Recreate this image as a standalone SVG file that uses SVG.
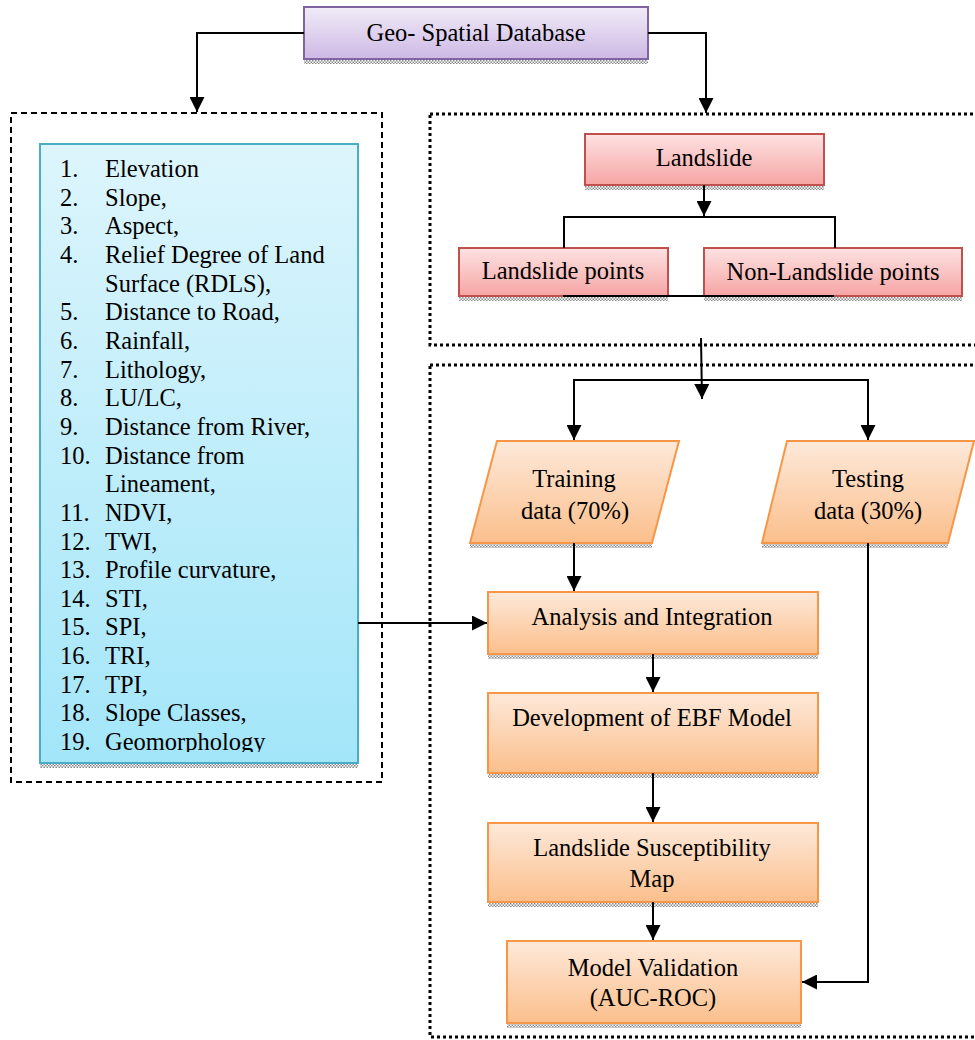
<svg xmlns="http://www.w3.org/2000/svg" width="975" height="1040" viewBox="0 0 975 1040">
<defs>
<linearGradient id="gPurple" x1="0" y1="0" x2="0" y2="1"><stop offset="0" stop-color="#f1ecf8"/><stop offset="1" stop-color="#cdb8e4"/></linearGradient>
<linearGradient id="gCyan" x1="0" y1="0" x2="0" y2="1"><stop offset="0" stop-color="#ddf5fc"/><stop offset="1" stop-color="#a3e6f9"/></linearGradient>
<linearGradient id="gRed" x1="0" y1="0" x2="0" y2="1"><stop offset="0" stop-color="#fde2e2"/><stop offset="1" stop-color="#f6a5a4"/></linearGradient>
<linearGradient id="gOrange" x1="0" y1="0" x2="0" y2="1"><stop offset="0" stop-color="#fde9da"/><stop offset="1" stop-color="#fbbf8c"/></linearGradient>
<pattern id="hatch" width="3" height="3" patternUnits="userSpaceOnUse"><rect width="3" height="3" fill="#ffffff"/><rect width="1.5" height="1.5" fill="#8a8a8a"/><rect x="1.5" y="1.5" width="1.5" height="1.5" fill="#8a8a8a"/></pattern>
<marker id="arr" viewBox="0 0 10 10" refX="10" refY="5" markerWidth="7.5" markerHeight="7.5" markerUnits="strokeWidth" orient="auto"><path d="M0,0 L10,5 L0,10 Z" fill="#000"/></marker>
<clipPath id="listClip"><rect x="40" y="144" width="318" height="608"/></clipPath>
</defs>
<style>
text{font-family:"Liberation Serif","Times New Roman",serif;font-size:24.5px;fill:#000}
.c{text-anchor:middle}
.sh{fill:url(#hatch)}
.purple{fill:url(#gPurple);stroke:#8064a2;stroke-width:2}
.cyan{fill:url(#gCyan);stroke:#4bacc6;stroke-width:2}
.red{fill:url(#gRed);stroke:#c0504d;stroke-width:2}
.orange{fill:url(#gOrange);stroke:#f79646;stroke-width:2}
.dash{fill:none;stroke:#000;stroke-width:2;stroke-dasharray:6 4}
.dot{fill:none;stroke:#000;stroke-width:3;stroke-dasharray:3 3}
.ln{fill:none;stroke:#000;stroke-width:2}
</style>

<g id="containers">
<rect class="dash" x="11" y="113" width="371" height="669"/>
<rect class="dot" x="430" y="114" width="560" height="231"/>
<rect class="dot" x="430" y="365" width="560" height="672"/>
</g>

<g id="geo">
<rect class="sh" x="304" y="59" width="344" height="5"/>
<rect class="purple" x="304" y="7" width="344" height="52"/>
<text class="c" x="476" y="41">Geo- Spatial Database</text>
</g>

<g id="factors">
<rect class="sh" x="40" y="763" width="318" height="5"/>
<rect class="cyan" x="40" y="144" width="318" height="619"/>
<g clip-path="url(#listClip)">
<text x="60" y="177">1.</text><text x="105" y="177">Elevation</text>
<text x="60" y="205.7">2.</text><text x="105" y="205.7">Slope,</text>
<text x="60" y="234.3">3.</text><text x="105" y="234.3">Aspect,</text>
<text x="60" y="263">4.</text><text x="105" y="263">Relief Degree of Land</text>
<text x="105" y="291.6">Surface (RDLS),</text>
<text x="60" y="320.3">5.</text><text x="105" y="320.3">Distance to Road,</text>
<text x="60" y="348.9">6.</text><text x="105" y="348.9">Rainfall,</text>
<text x="60" y="377.6">7.</text><text x="105" y="377.6">Lithology,</text>
<text x="60" y="406.2">8.</text><text x="105" y="406.2">LU/LC,</text>
<text x="60" y="434.9">9.</text><text x="105" y="434.9">Distance from River,</text>
<text x="60" y="463.5">10.</text><text x="105" y="463.5">Distance from</text>
<text x="105" y="492.2">Lineament,</text>
<text x="60" y="520.8">11.</text><text x="105" y="520.8">NDVI,</text>
<text x="60" y="549.5">12.</text><text x="105" y="549.5">TWI,</text>
<text x="60" y="578.1">13.</text><text x="105" y="578.1">Profile curvature,</text>
<text x="60" y="606.8">14.</text><text x="105" y="606.8">STI,</text>
<text x="60" y="635.4">15.</text><text x="105" y="635.4">SPI,</text>
<text x="60" y="664.1">16.</text><text x="105" y="664.1">TRI,</text>
<text x="60" y="692.7">17.</text><text x="105" y="692.7">TPI,</text>
<text x="60" y="721.4">18.</text><text x="105" y="721.4">Slope Classes,</text>
<text x="60" y="750">19.</text><text x="105" y="750">Geomorphology</text>
</g>
</g>

<g id="landslide">
<rect class="sh" x="585" y="185" width="239" height="5"/>
<rect class="red" x="585" y="134" width="239" height="51"/>
<text class="c" x="704" y="166">Landslide</text>
</g>

<g id="landslide-points">
<rect class="sh" x="459" y="296" width="209" height="5"/>
<rect class="red" x="459" y="248" width="209" height="48"/>
<text class="c" x="563" y="279">Landslide points</text>
</g>

<g id="non-landslide-points">
<rect class="sh" x="704" y="296" width="258" height="5"/>
<rect class="red" x="704" y="248" width="258" height="48"/>
<text class="c" x="833" y="280">Non-Landslide points</text>
</g>

<g id="training">
<polygon class="sh" points="470,543 652,543 652,548 470,548"/>
<polygon class="orange" points="497,441 679,441 652,543 470,543"/>
<text class="c" x="574" y="487">Training</text>
<text class="c" x="575" y="519">data (70%)</text>
</g>

<g id="testing">
<polygon class="sh" points="762,543 948,543 948,548 762,548"/>
<polygon class="orange" points="787,441 974,441 948,543 762,543"/>
<text class="c" x="868" y="487">Testing</text>
<text class="c" x="868" y="519">data (30%)</text>
</g>

<g id="analysis">
<rect class="sh" x="488" y="654" width="330" height="5"/>
<rect class="orange" x="488" y="592" width="330" height="62"/>
<text class="c" x="652" y="625">Analysis and Integration</text>
</g>

<g id="development">
<rect class="sh" x="488" y="773" width="330" height="5"/>
<rect class="orange" x="488" y="693" width="330" height="80"/>
<text class="c" x="652" y="726">Development of EBF Model</text>
</g>

<g id="lsm">
<rect class="sh" x="488" y="902" width="330" height="5"/>
<rect class="orange" x="488" y="823" width="330" height="79"/>
<text class="c" x="652" y="856">Landslide Susceptibility</text>
<text class="c" x="652" y="887">Map</text>
</g>

<g id="validation">
<rect class="sh" x="507" y="1023" width="294" height="5"/>
<rect class="orange" x="507" y="941" width="294" height="82"/>
<text class="c" x="653" y="976">Model Validation</text>
<text class="c" x="653" y="1006">(AUC-ROC)</text>
</g>

<g id="connectors">
<polyline class="ln" points="304,33 197,33 197,112" marker-end="url(#arr)"/>
<polyline class="ln" points="648,33 706,33 706,113" marker-end="url(#arr)"/>
<line class="ln" x1="704" y1="185" x2="704" y2="216" marker-end="url(#arr)"/>
<polyline class="ln" points="564,248 564,217 835,217 835,248"/>
<line class="ln" x1="563" y1="296" x2="834" y2="296"/>
<line class="ln" x1="701" y1="338" x2="702" y2="399" marker-end="url(#arr)"/>
<polyline class="ln" points="574,440 574,380 868,380 868,440"/>
<line class="ln" x1="574" y1="420" x2="574" y2="440" marker-end="url(#arr)"/>
<line class="ln" x1="868" y1="420" x2="868" y2="440" marker-end="url(#arr)"/>
<line class="ln" x1="574" y1="543" x2="574" y2="591" marker-end="url(#arr)"/>
<line class="ln" x1="358" y1="623" x2="487" y2="623" marker-end="url(#arr)"/>
<line class="ln" x1="653" y1="654" x2="653" y2="692" marker-end="url(#arr)"/>
<line class="ln" x1="653" y1="773" x2="653" y2="822" marker-end="url(#arr)"/>
<line class="ln" x1="653" y1="902" x2="653" y2="940" marker-end="url(#arr)"/>
<polyline class="ln" points="868,543 868,982 802,982" marker-end="url(#arr)"/>
</g>
</svg>
